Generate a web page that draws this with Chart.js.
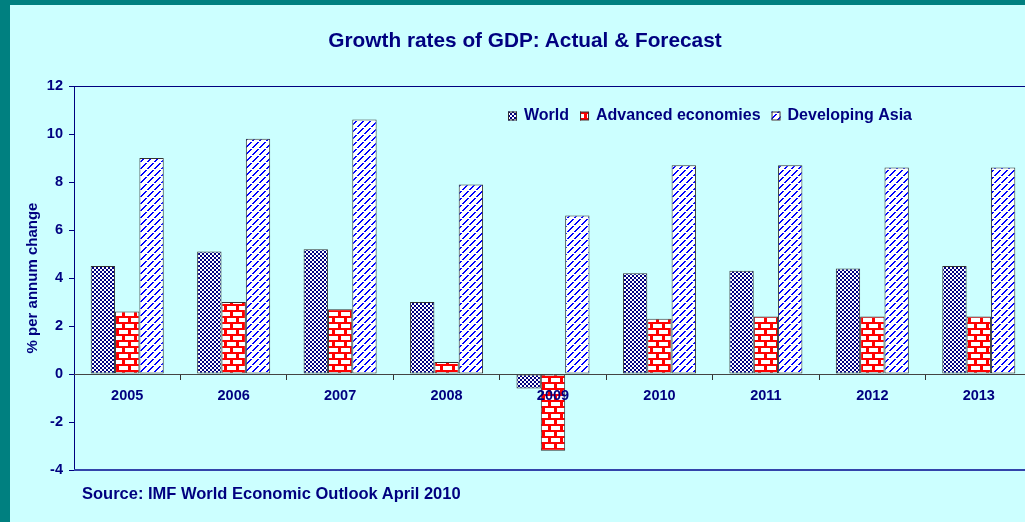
<!DOCTYPE html>
<html>
<head>
<meta charset="utf-8">
<script src="https://cdn.jsdelivr.net/npm/chart.js@4/dist/chart.umd.min.js"></script>
<style>
  html, body { margin: 0; padding: 0; width: 1025px; height: 522px; overflow: hidden; background: #008080; }
  #panel { position: absolute; left: 10px; top: 5px; width: 1030px; height: 517px; background: #CCFFFF; }
  #myChart { position: absolute; left: 0; top: 0; }
  .txt { position: absolute; font-family: Arial, "Liberation Sans", sans-serif; font-weight: bold; color: #000080; white-space: nowrap; }
  #title { left: -10px; width: 1050px; top: 23px; text-align: center; font-size: 20.8px; line-height: 24px; }
  #source { left: 72px; top: 478px; font-size: 16.5px; line-height: 20px; }
</style>
</head>
<body>
<div id="panel">
  <canvas id="myChart" width="1030" height="517"></canvas>
  <div id="title" class="txt">Growth rates of GDP: Actual &amp; Forecast</div>
  <div id="source" class="txt">Source: IMF World Economic Outlook April 2010</div>
</div>
<script>
// years on the x axis
const years = ['2005', '2006', '2007', '2008', '2009', '2010', '2011', '2012', '2013'];
// growth rates (% per annum change)
const world = [4.5, 5.1, 5.2, 3.0, -0.6, 4.2, 4.3, 4.4, 4.5];
const advanced = [2.6, 3.0, 2.7, 0.5, -3.2, 2.3, 2.4, 2.4, 2.4];
const devAsia = [9.0, 9.8, 10.6, 7.9, 6.6, 8.7, 8.7, 8.6, 8.6];
const seriesNames = ['World', 'Advanced economies', 'Developing Asia'];
// y axis range
const yMin = -4;
const yMax = 12;
const yStep = 2;

const navy = '#000080';
const fontFam = 'Arial, "Liberation Sans", sans-serif';

// small tiles used as fill patterns (checks, bricks, dashed diagonals)
function makePattern(kind) {
  const c = document.createElement('canvas');
  const g = c.getContext('2d');
  if (kind === 'check') {
    c.width = 4; c.height = 4;
    g.fillStyle = '#ffffff'; g.fillRect(0, 0, 4, 4);
    g.fillStyle = navy;
    g.fillRect(0, 0, 2, 2); g.fillRect(2, 2, 2, 2);
  } else if (kind === 'brick') {
    c.width = 12; c.height = 12;
    g.fillStyle = '#ff0000'; g.fillRect(0, 0, 12, 12);
    g.fillStyle = '#ffffff';
    g.fillRect(1, 1, 9, 4);
    g.fillRect(7, 7, 5, 4);
    g.fillRect(0, 7, 4, 4);
  } else {
    c.width = 7; c.height = 7;
    g.fillStyle = '#ffffff'; g.fillRect(0, 0, 7, 7);
    g.fillStyle = '#0000ff';
    for (let i = 0; i < 7; i++) {
      if (i === 3) continue;
      g.fillRect(i, 6 - i, 1, 1);
      g.fillRect((i + 1) % 7, 6 - i, 1, 1);
    }
  }
  return g.createPattern(c, 'repeat');
}

const patterns = [makePattern('check'), makePattern('brick'), makePattern('diag')];

// plot box lines plus the legend inside the plot
const extras = {
  id: 'extras',
  beforeDatasetsDraw(chart) {
    const {ctx, chartArea} = chart;
    ctx.save();
    ctx.strokeStyle = navy;
    ctx.lineWidth = 1;
    ctx.beginPath();
    ctx.moveTo(chartArea.left, chartArea.top + 0.5);
    ctx.lineTo(chartArea.right, chartArea.top + 0.5);
    ctx.stroke();
    ctx.strokeStyle = '#3344aa';
    ctx.lineWidth = 2;
    ctx.beginPath();
    ctx.moveTo(chartArea.left, chartArea.bottom);
    ctx.lineTo(chartArea.right, chartArea.bottom);
    ctx.stroke();
    ctx.restore();
  },
  afterDraw(chart) {
    const ctx = chart.ctx;
    ctx.save();
    ctx.font = 'bold 16px ' + fontFam;
    ctx.textBaseline = 'middle';
    let x = 498;
    const y = 111;
    seriesNames.forEach((name, i) => {
      ctx.fillStyle = patterns[i];
      ctx.fillRect(x, y - 4.5, 9, 9);
      ctx.strokeStyle = '#333333';
      ctx.lineWidth = 1;
      ctx.strokeRect(x + 0.5, y - 4, 8, 8);
      ctx.fillStyle = navy;
      ctx.fillText(name, x + 16, y);
      x += 16 + ctx.measureText(name).width + 11;
    });
    ctx.restore();
  }
};

const datasets = [world, advanced, devAsia].map((vals, i) => ({
  label: seriesNames[i],
  data: vals,
  backgroundColor: patterns[i],
  borderColor: '#333333',
  borderWidth: 1,
  borderSkipped: false,
  categoryPercentage: 0.686,
  barPercentage: 1.0
}));

const myChart = document.getElementById('myChart');
new Chart(myChart, {
  type: 'bar',
  data: { labels: years, datasets: datasets },
  options: {
    responsive: false,
    animation: false,
    devicePixelRatio: 1,
    layout: { padding: { left: 0, top: 81, right: 8, bottom: 52 } },
    plugins: {
      legend: { display: false },
      title: { display: false },
      tooltip: { enabled: false }
    },
    scales: {
      x: {
        position: { y: 0 },
        grid: { offset: true, drawOnChartArea: false, tickLength: 5, color: '#333333' },
        border: { display: true, color: '#444444', width: 1, z: 1 },
        ticks: { color: navy, font: { family: fontFam, size: 14.5, weight: 'bold' }, padding: 8, z: 1, maxRotation: 0 }
      },
      y: {
        min: yMin,
        max: yMax,
        afterFit(scale) { scale.width = 64; },
        grid: { drawOnChartArea: false, tickLength: 5, color: navy },
        border: { display: true, color: navy, width: 1 },
        ticks: { stepSize: yStep, color: navy, font: { family: fontFam, size: 14.5, weight: 'bold' }, padding: 6 },
        title: {
          display: true,
          text: '% per annum change',
          color: navy,
          font: { family: fontFam, size: 15, weight: 'bold' },
          padding: { top: 14, bottom: 0 }
        }
      }
    }
  },
  plugins: [extras]
});
</script>
</body>
</html>
